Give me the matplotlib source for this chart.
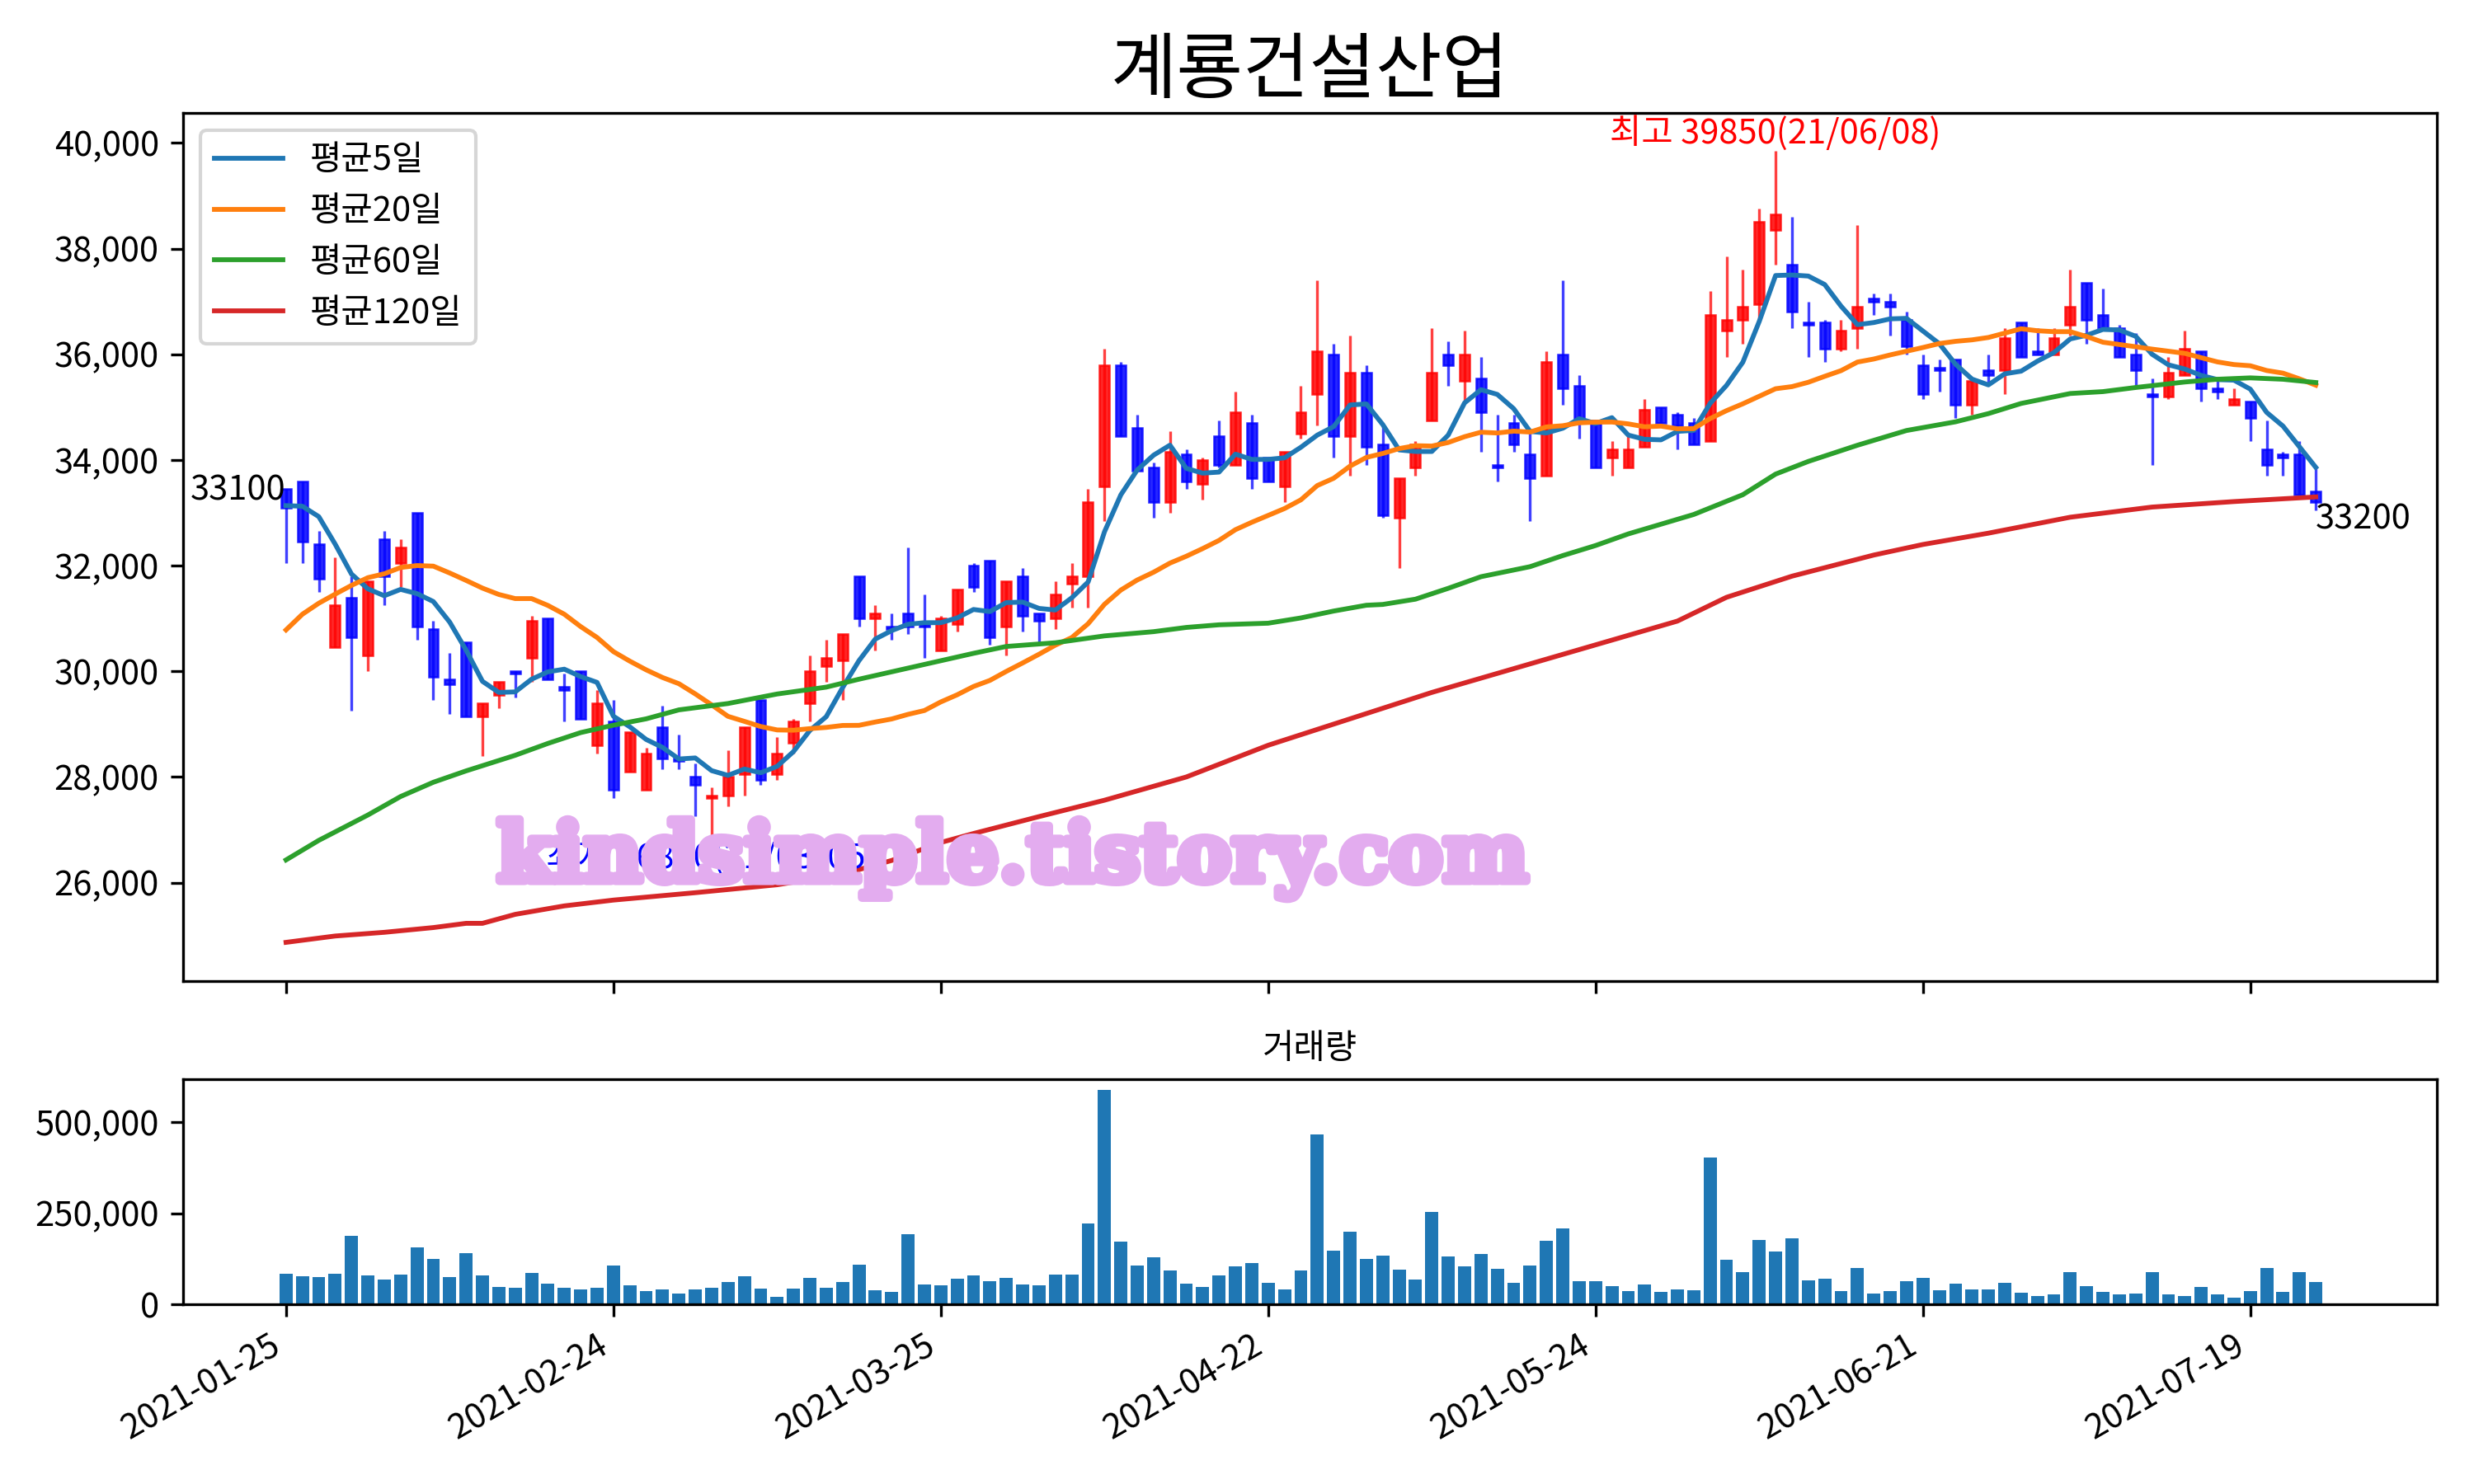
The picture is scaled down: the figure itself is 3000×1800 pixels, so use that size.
import matplotlib
matplotlib.use('Agg')
import matplotlib.pyplot as plt
import matplotlib.patheffects as pe
import pandas as pd
from matplotlib.ticker import FuncFormatter

plt.rcParams['font.family'] = ['Noto Sans CJK KR', 'DejaVu Sans']
plt.rcParams['axes.unicode_minus'] = False

title = '계룡건설산업'
tick_labels = ['2021-01-25', '2021-02-24', '2021-03-25', '2021-04-22',
               '2021-05-24', '2021-06-21', '2021-07-19']

# daily candles (trading-day index 0..124)
opens = [33450, 33600, 32400, 30450, 31400, 30300, 32500, 32050, 33000, 30800,
         29850, 30550, 29150, 29550, 30000, 30250, 31000, 29700, 30000, 28600,
         29050, 28100, 27750, 28950, 28350, 28000, 27600, 27650, 28050, 29450,
         28050, 28650, 29400, 30100, 30200, 31800, 31000, 30850, 31100, 30900,
         30400, 30900, 32000, 32100, 30850, 31800, 31100, 31000, 31650, 31800,
         33500, 35800, 34600, 33850, 33200, 34100, 33550, 34450, 33900, 34700,
         34050, 33500, 34500, 35250, 36000, 34450, 35650, 34300, 32900, 33850,
         34750, 36000, 35500, 35550, 33900, 34700, 34100, 33700, 36000, 35400,
         34750, 34050, 33850, 34250, 35000, 34850, 34700, 34350, 36450, 36650,
         36950, 38350, 37700, 36600, 36600, 36100, 36500, 37050, 37000, 36650,
         35800, 35750, 35900, 35050, 35700, 35700, 36600, 36050, 36000, 36550,
         37350, 36750, 36500, 36000, 35250, 35200, 35600, 36050, 35350, 35050,
         35100, 34200, 34100, 34100, 33400]
highs = [33450, 33600, 32650, 32150, 31800, 31700, 32650, 32500, 33000, 30950,
         30350, 30550, 29400, 29800, 30000, 31050, 31000, 29950, 30000, 29650,
         29450, 28850, 28550, 29350, 28800, 28250, 27800, 28500, 28950, 29450,
         28750, 29100, 30300, 30600, 30700, 31800, 31250, 31100, 32350, 31450,
         31050, 31550, 32050, 32100, 31700, 31950, 31100, 31700, 32050, 33450,
         36100, 35850, 34850, 33950, 34550, 34200, 34050, 34750, 35300, 34850,
         34050, 34150, 35400, 37400, 36200, 36350, 35800, 34650, 33650, 34350,
         36500, 36250, 36450, 35950, 34850, 34850, 34550, 36050, 37400, 35600,
         34750, 34350, 34450, 35150, 35000, 34900, 34800, 37200, 37850, 37600,
         38750, 39850, 38600, 37000, 36650, 36650, 38450, 37150, 37150, 36800,
         36000, 35900, 35900, 35500, 36000, 36500, 36600, 36500, 36500, 37600,
         37350, 37250, 36550, 36400, 35550, 35950, 36450, 36050, 35550, 35350,
         35100, 34750, 34150, 34350, 33850]
lows = [32050, 32050, 31500, 30450, 29250, 30000, 31250, 31600, 30600, 29450,
        29200, 29150, 28400, 29300, 29500, 29800, 29850, 29050, 29100, 28450,
        27600, 28100, 27750, 28150, 28150, 27250, 26800, 27450, 27650, 27850,
        27950, 28450, 29050, 29800, 29450, 30850, 30400, 30600, 30700, 30250,
        30400, 30750, 31500, 30500, 30300, 30750, 30550, 30800, 31200, 31200,
        32850, 34450, 33800, 32900, 33000, 33450, 33250, 33850, 33900, 33450,
        33600, 33200, 34400, 34650, 34050, 33700, 33900, 32900, 31950, 33700,
        34750, 35400, 35100, 34150, 33600, 34150, 32850, 33700, 35050, 34400,
        33850, 33700, 33850, 34250, 34700, 34200, 34300, 34350, 35950, 36200,
        36650, 37700, 36500, 35950, 35850, 36050, 36100, 36750, 36350, 36000,
        35150, 35300, 34800, 34850, 35450, 35250, 35950, 36000, 36000, 36350,
        36200, 36500, 35950, 35400, 33900, 35150, 35600, 35100, 35150, 35050,
        34350, 33700, 33700, 33350, 33050]
closes = [33100, 32450, 31750, 31250, 30650, 31700, 31800, 32350, 30850, 29900,
          29750, 29150, 29400, 29800, 29950, 30950, 29850, 29650, 29100, 29400,
          27750, 28850, 28450, 28350, 28300, 27850, 27650, 28000, 28950, 27950,
          28450, 29050, 30000, 30250, 30700, 31000, 31100, 30800, 30850, 30850,
          31000, 31550, 31600, 30650, 31700, 31050, 30950, 31450, 31800, 33200,
          35800, 34450, 33800, 33200, 34150, 33600, 34000, 33900, 34900, 33650,
          33600, 34150, 34900, 36050, 34450, 35650, 34250, 32950, 33650, 34300,
          35650, 35800, 36000, 34900, 33850, 34300, 33650, 35850, 35350, 34750,
          33850, 34200, 34200, 34950, 34700, 34650, 34300, 36750, 36650, 36900,
          38500, 38650, 36800, 36550, 36100, 36450, 36900, 37000, 36900, 36150,
          35250, 35700, 35050, 35500, 35600, 36300, 35950, 36000, 36300, 36900,
          36650, 36500, 35950, 35700, 35200, 35650, 36100, 35350, 35300, 35150,
          34800, 33900, 34050, 33350, 33200]
volumes = [84000, 77000, 75000, 84000, 188000, 80000, 68000, 82000, 156000, 125000,
           75000, 140000, 80000, 48000, 46000, 86000, 57000, 46000, 41000, 46000,
           107000, 53000, 37000, 41000, 30000, 41000, 46000, 62000, 77000, 44000,
           21000, 44000, 73000, 46000, 62000, 109000, 39000, 35000, 192000, 55000,
           53000, 71000, 80000, 64000, 73000, 55000, 53000, 82000, 82000, 221000,
           589000, 172000, 107000, 129000, 93000, 57000, 48000, 80000, 104000, 113000,
           59000, 41000, 93000, 467000, 147000, 199000, 125000, 134000, 95000, 68000,
           253000, 131000, 104000, 138000, 98000, 59000, 107000, 174000, 208000, 64000,
           64000, 50000, 37000, 55000, 35000, 41000, 39000, 402000, 122000, 89000,
           176000, 145000, 181000, 66000, 71000, 37000, 100000, 30000, 37000, 64000,
           73000, 39000, 57000, 41000, 41000, 59000, 32000, 23000, 28000, 89000,
           50000, 35000, 28000, 30000, 89000, 28000, 23000, 48000, 28000, 19000,
           37000, 100000, 35000, 89000, 62000]

# moving-average values read off the chart where earlier prices are not available
ma5_head = [33135, 33124, 32927, 32407]
ma20_head = [30783, 31080, 31288, 31460, 31626, 31772, 31845, 31964, 32001, 31990,
             31860, 31720, 31574, 31454, 31376, 31376, 31246, 31080, 30846]
ma60_idx = [0, 2, 4, 5, 7, 9, 11, 14, 16, 18, 20, 22, 24, 27, 30, 33, 35, 38, 40,
            42, 44, 47, 50, 53, 55, 57, 60, 62, 64, 66, 67, 69, 71, 73, 76, 78, 80,
            82, 86, 89, 91, 93, 96, 99, 102, 104, 106, 109, 111, 113, 116, 118, 120,
            122, 124]
ma60_val = [26430, 26800, 27120, 27280, 27630, 27900, 28115, 28410, 28635, 28840,
            28980, 29100, 29270, 29390, 29570, 29700, 29850, 30060, 30200, 30340,
            30470, 30540, 30670, 30750, 30830, 30880, 30910, 31010, 31140, 31250,
            31265, 31365, 31570, 31790, 31980, 32190, 32380, 32600, 32968, 33342,
            33732, 33972, 34278, 34557, 34722, 34877, 35069, 35257, 35293, 35371,
            35475, 35527, 35553, 35527, 35465]
ma120_idx = [0, 3, 6, 9, 11, 12, 14, 17, 20, 25, 30, 34, 37, 40, 42, 46, 50, 55,
             60, 65, 70, 75, 80, 85, 88, 92, 97, 100, 104, 109, 114, 119, 124]
ma120_val = [24870, 24990, 25060, 25150, 25230, 25230, 25400, 25560, 25670, 25810,
             25960, 26160, 26420, 26760, 26930, 27250, 27560, 28000, 28600, 29100,
             29600, 30050, 30500, 30950, 31400, 31800, 32200, 32400, 32614, 32916,
             33108, 33212, 33300]

x = list(range(len(closes)))
s = pd.Series(closes, dtype=float)
ma5 = s.rolling(5).mean()
ma5[:4] = ma5_head
ma20 = s.rolling(20).mean()
ma20[:19] = ma20_head

fig = plt.figure(figsize=(10, 6), dpi=300)
ax = fig.add_axes([0.074, 0.339, 0.911, 0.585])
axv = fig.add_axes([0.074, 0.121, 0.911, 0.152], sharex=ax)

colors = ['red' if c >= o else 'blue' for o, c in zip(opens, closes)]
ax.vlines(x, lows, highs, colors=colors, linewidth=0.8, alpha=0.75)
ax.bar(x, [abs(c - o) for o, c in zip(opens, closes)],
       bottom=[min(o, c) for o, c in zip(opens, closes)],
       width=0.6, color=colors, edgecolor=colors, linewidth=0.6, alpha=0.85)

ax.plot(x, ma5, label='평균5일', linewidth=1.4)
ax.plot(x, ma20, label='평균20일', linewidth=1.4)
ax.plot(ma60_idx, ma60_val, label='평균60일', linewidth=1.4)
ax.plot(ma120_idx, ma120_val, label='평균120일', linewidth=1.4)
ax.legend(loc='upper left', fontsize=10)

hi = highs.index(max(highs))
lo = lows.index(min(lows))
ax.text(hi, highs[hi], f'최고 {highs[hi]}(21/06/08)', color='red',
        ha='center', va='bottom', fontsize=10)
ax.text(lo, lows[lo], f'최저 {lows[lo]}(21/03/05)', color='blue',
        ha='center', va='top', fontsize=10)
ax.text(0, closes[0], str(closes[0]), ha='right', va='bottom', fontsize=10)
ax.text(x[-1], closes[-1], str(closes[-1]), ha='left', va='top', fontsize=10)

# watermark
wm_color = '#E3ACEF'
ax.text(0.368, 0.14, 'kindsimple.tistory.com', transform=ax.transAxes,
        fontsize=23.5, fontweight='bold', family='DejaVu Serif', color=wm_color,
        ha='center', va='center', zorder=10,
        path_effects=[pe.withStroke(linewidth=2.5, foreground=wm_color)])

comma = FuncFormatter(lambda v, p: f'{int(v):,}')
ax.yaxis.set_major_formatter(comma)
axv.yaxis.set_major_formatter(comma)
ax.set_ylim(24140, 40570)
ax.set_xlim(-6.29, 131.4)
ax.set_title(title, fontsize=21)

axv.bar(x, volumes, width=0.8)
axv.set_title('거래량', fontsize=10)
axv.set_yticks([0, 250000, 500000])
axv.set_xticks(range(0, 121, 20))
axv.set_xticklabels(tick_labels, rotation=30, ha='right')
plt.setp(ax.get_xticklabels(), visible=False)

fig.savefig('out.png', dpi=300)
